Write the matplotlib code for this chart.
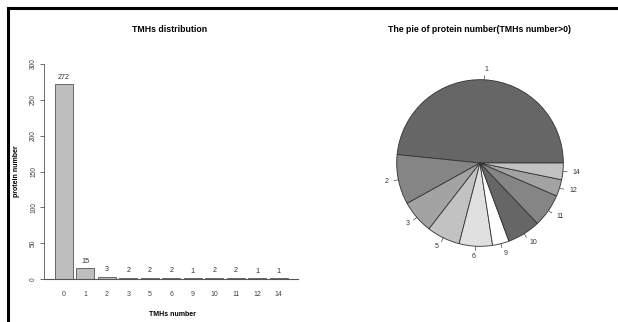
import numpy as np
import matplotlib
matplotlib.use('Agg')
import matplotlib.pyplot as plt
from matplotlib.lines import Line2D

plt.rcParams['font.family'] = ['Liberation Sans', 'DejaVu Sans']

# data
tmh_labels = ['0', '1', '2', '3', '5', '6', '9', '10', '11', '12', '14']
protein_counts = [272, 15, 3, 2, 2, 2, 1, 2, 2, 1, 1]

pie_labels = tmh_labels[1:]
pie_counts = protein_counts[1:]
pie_grays = ['#666666', '#858585', '#a3a3a3', '#c2c2c2', '#e0e0e0', '#ffffff']

W, H = 618, 322
fig = plt.figure(figsize=(W / 100, H / 100), dpi=100)

def px_axes(left, top, right, bottom):
    return fig.add_axes([left / W, 1 - bottom / H, (right - left) / W, (bottom - top) / H])

# ---- bar chart ----
ax = px_axes(44, 64, 300, 279)
unit = 17.9
x = 0.7 + 1.2 * np.arange(len(protein_counts))
ax.bar(x, protein_counts, width=1.0, color='#bebebe', edgecolor='#555555', linewidth=0.6)
ax.set_xlim(0.2 - 11 / unit, 0.2 + 245 / unit)
ax.set_ylim(0, 300)
ax.plot([0.2 - 11 / unit, 0.2 + 243 / unit], [0, 0], color='#555555', lw=0.8, clip_on=False)
for xi, v in zip(x, protein_counts):
    ax.annotate(str(v), (xi, v), xytext=(0, 2.5), textcoords='offset points',
                ha='center', va='bottom', fontsize=5.2, color='#333333')
for s in ['top', 'right', 'bottom']:
    ax.spines[s].set_visible(False)
ax.spines['left'].set_bounds(0, 300)
ax.spines['left'].set_linewidth(0.6)
ax.spines['left'].set_color('#555555')
ax.set_yticks(range(0, 301, 50))
ax.set_yticklabels([str(t) for t in range(0, 301, 50)], rotation=90, va='center',
                   fontsize=4.8, color='#444444')
ax.tick_params(axis='y', length=3, width=0.6, color='#555555', pad=2)
ax.set_xticks(x)
ax.set_xticklabels(tmh_labels, fontsize=5, color='#444444')
ax.tick_params(axis='x', length=0, pad=9)
ax.set_xlabel('TMHs number', fontsize=5, fontweight='bold', labelpad=9)
ax.set_ylabel('protein number', fontsize=5, fontweight='bold', labelpad=7)
fig.text(170 / W, 1 - 29 / H, 'TMHs distribution', ha='center', va='center',
         fontsize=6.3, fontweight='bold')

# ---- pie chart ----
pax = px_axes(380, 63, 580, 263)
wedges, _ = pax.pie(pie_counts, startangle=0, counterclock=True,
                    colors=[pie_grays[i % len(pie_grays)] for i in range(len(pie_counts))],
                    wedgeprops=dict(edgecolor='#333333', linewidth=0.6))
for w, lab in zip(wedges, pie_labels):
    ang = np.deg2rad((w.theta1 + w.theta2) / 2)
    c, s = np.cos(ang), np.sin(ang)
    pax.plot([c, 1.05 * c], [s, 1.05 * s], color='#444444', lw=0.5)
    pax.text(1.12 * c, 1.12 * s, lab, ha='left' if c > 0 else 'right', va='center',
             fontsize=5, color='#333333')
pax.set_xlim(-1.2, 1.2)
pax.set_ylim(-1.2, 1.2)
pax.set_aspect('equal')
pax.axis('off')
fig.text(480 / W, 1 - 29 / H, 'The pie of protein number(TMHs number>0)', ha='center',
         va='center', fontsize=6.3, fontweight='bold')

# frame lines (top and left)
fig.add_artist(Line2D([8 / W, 1], [1 - 8 / H, 1 - 8 / H], color='black', lw=2.2))
fig.add_artist(Line2D([8 / W, 8 / W], [0, 1 - 8 / H], color='black', lw=2.2))

fig.savefig('out.png', dpi=100)
